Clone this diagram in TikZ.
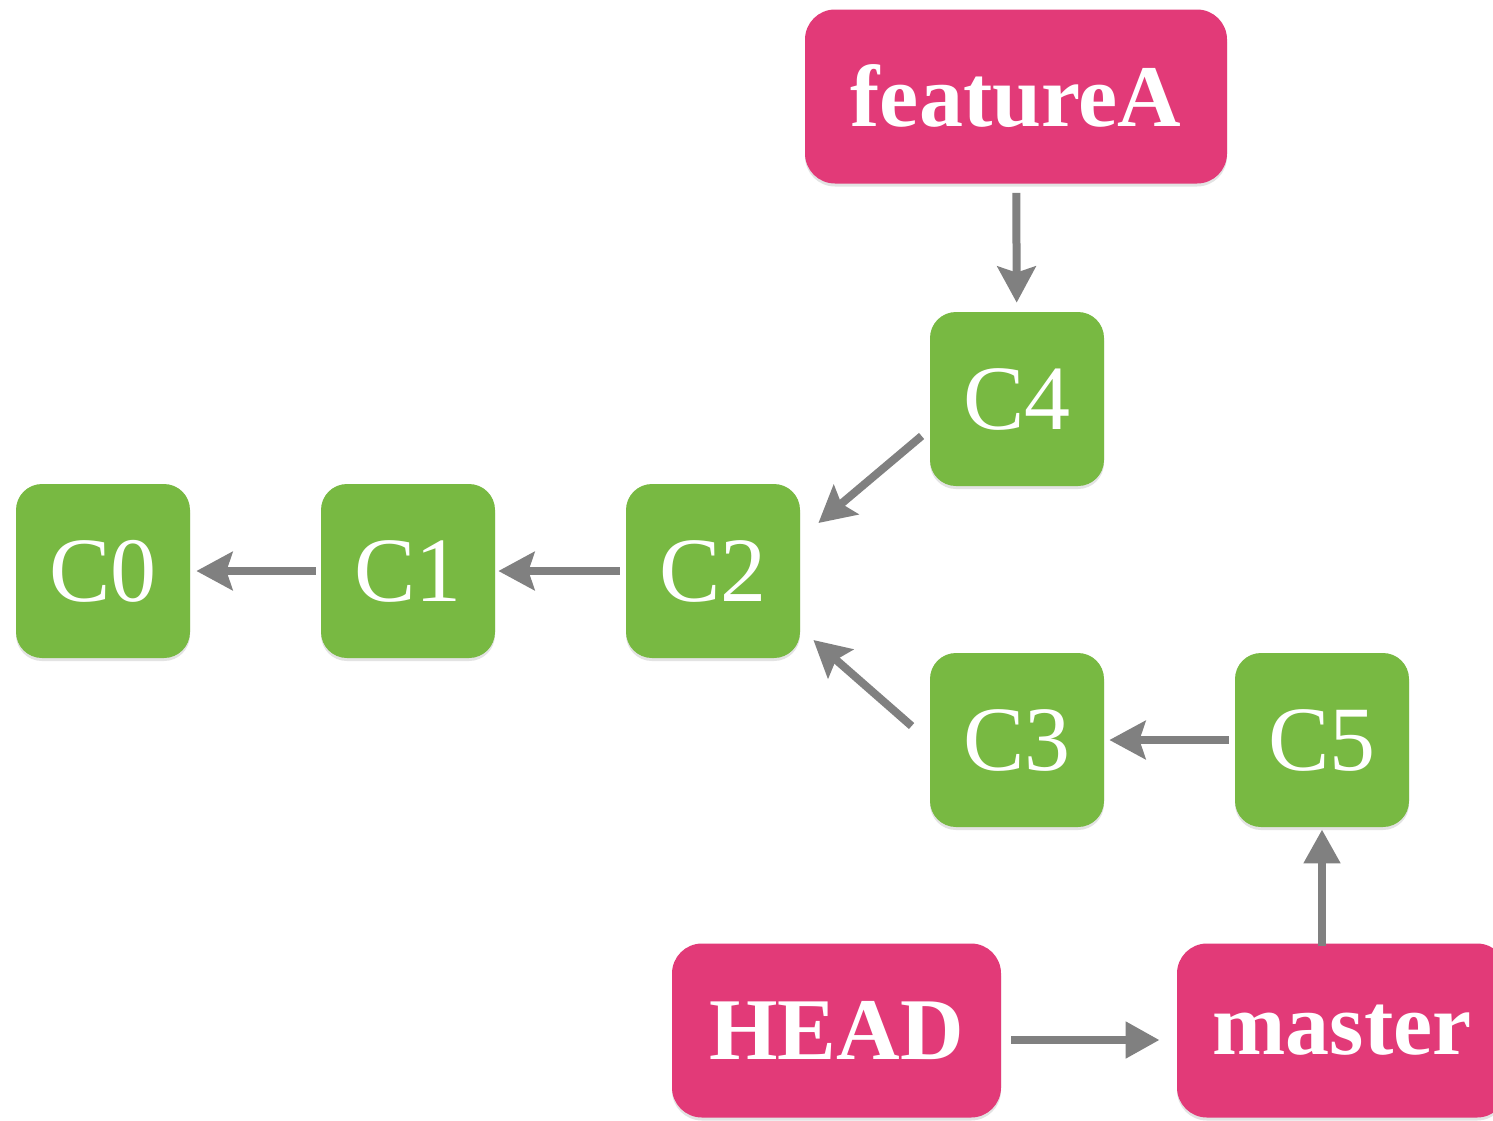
\documentclass[tikz,border=0pt]{standalone}
\usepackage{fontspec}
\setmainfont{Liberation Serif}
\usetikzlibrary{arrows.meta,calc,shadows}
\definecolor{gitpink}{RGB}{226,58,120}
\definecolor{gitgreen}{RGB}{120,185,66}
\definecolor{arrowgray}{RGB}{128,128,128}
\tikzset{
  boxshadow/.style={drop shadow={opacity=0.22, shadow xshift=0pt, shadow yshift=-1.5pt}},
  commit/.style={fill=gitgreen, rounded corners=13pt, minimum width=87pt,
    minimum height=87pt, inner sep=0pt, text=white,
    font=\fontsize{46}{52}\selectfont, boxshadow},
  branch/.style={fill=gitpink, rounded corners=15pt, minimum height=87pt,
    inner sep=0pt, text=white, font=\fontsize{44}{50}\selectfont\bfseries, boxshadow},
  link/.style={draw=arrowgray, line width=4pt,
    -{Stealth[length=18pt,width=19pt,inset=3pt]}},
  reflink/.style={draw=arrowgray, line width=4pt,
    -{Triangle[length=17pt,width=17.5pt]}},
}
\begin{document}
\begin{tikzpicture}[x=0.5pt,y=-0.5pt]
\useasboundingbox (0,0) rectangle (1493,1120);
\fill[white] (0,0) rectangle (1493,1120);
% commits
\node[commit] (C0) at (103,571) {C0};
\node[commit] (C1) at (408,571) {C1};
\node[commit] (C2) at (713,571) {C2};
\node[commit] (C4) at (1017,399) {C4};
\node[commit] (C3) at (1017,740) {C3};
\node[commit] (C5) at (1322,740) {C5};
% branches
\node[branch, minimum width=211pt] (featureA) at (1016,96.5) {featureA};
\node[branch, minimum width=164.5pt] (HEAD) at (836.5,1030.5) {HEAD};
\node[branch, minimum width=165pt] (master) at (1342,1030.5) {master};
% connectors
\draw[link, shorten <=4.5pt, shorten >=4.5pt] (featureA) -- (C4);
\draw[link] ($(C4.west)+(-8,37)$) -- ($(C2.east)+(18,-48)$);
\draw[link] ($(C3.west)+(-18,-14)$) -- ($(C2.east)+(13,69)$);
\draw[link, shorten <=3pt, shorten >=1.5pt] (C2) -- (C1);
\draw[link, shorten <=2.5pt, shorten >=3pt] (C1) -- (C0);
\draw[link, shorten <=3pt, shorten >=2.5pt] (C5) -- (C3);
\draw[reflink] ($(HEAD.east)+(10,9.5)$) -- ($(master.west)+(-17,9.5)$);
\draw[reflink, shorten <=-1.5pt, shorten >=1pt] (master.north -| C5) -- (C5);
\end{tikzpicture}
\end{document}
